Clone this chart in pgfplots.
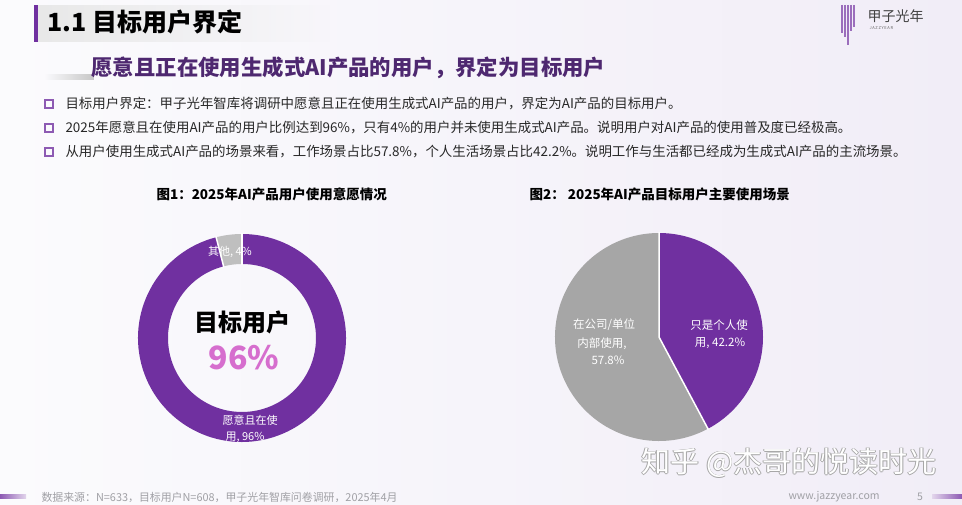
\documentclass[border=0pt]{standalone}
\usepackage{pgfplots}
\pgfplotsset{compat=1.18}
\usepackage{pgfplotstable}
\usetikzlibrary{fadings}
\usepackage{fontspec}
\setmainfont{Noto Sans CJK SC}
\definecolor{ppl}{RGB}{112,48,160}
\definecolor{pgrayA}{RGB}{191,191,191}
\definecolor{pgrayB}{RGB}{166,166,166}
\definecolor{pink}{RGB}{214,110,206}
\definecolor{subt}{RGB}{78,40,112}
\definecolor{bodytxt}{RGB}{40,40,40}
\definecolor{foot}{RGB}{160,160,165}
\definecolor{bgL}{RGB}{251,251,253}
\definecolor{bgR}{RGB}{241,237,247}

\pgfplotstableread[col sep=comma]{
label,value
其他,4
愿意且在使用,96
}\donutdata
\pgfplotstableread[col sep=comma]{
label,value
只是个人使用,42.2
在公司/单位内部使用,57.8
}\piedata

\begin{document}
\begin{tikzpicture}[x=1pt,y=1pt]
\useasboundingbox (0,0) rectangle (962,505);
\shade[left color=bgL, right color=bgR] (0,0) rectangle (962,505);
% title band
\fill[black!9, path fading=east] (35,463) rectangle (330,500);
\fill[ppl] (34,463) rectangle (38,500);
\node[anchor=west, font=\fontsize{25}{30}\selectfont\bfseries, text=black] at (44,483) {1.1 目标用户界定};
% subtitle
\fill[black!22, path fading=west] (45,425) rectangle (94,431);
\node[anchor=west, font=\fontsize{21.4}{25}\selectfont\bfseries, text=subt] at (88,437) {愿意且正在使用生成式AI产品的用户，界定为目标用户};
% logo
\foreach \xx/\yl in {842/472,845/468,848/460,851/474,854/478} {\draw[ppl!70, line width=1.2pt] (\xx,500) -- (\xx,\yl);}
\node[anchor=west, font=\fontsize{14}{16}\selectfont, text=black!75] at (864,489) {甲子光年};
\node[anchor=west, font=\fontsize{4}{5}\selectfont, text=black!60] at (866,477) {J\,A\,Z\,Z\,Y\,E\,A\,R};
% bullets
\foreach \yy in {401,377,353} {\draw[ppl!80, line width=1.3pt] (45,\yy-4) rectangle (53,\yy+4);}
\node[anchor=west, font=\fontsize{13.45}{15}\selectfont, text=bodytxt] at (62,401) {目标用户界定：甲子光年智库将调研中愿意且正在使用生成式AI产品的用户，界定为AI产品的目标用户。};
\node[anchor=west, font=\fontsize{13.45}{15}\selectfont, text=bodytxt] at (62,377) {2025年愿意且在使用AI产品的用户比例达到96\%，只有4\%的用户并未使用生成式AI产品。说明用户对AI产品的使用普及度已经极高。};
\node[anchor=west, font=\fontsize{13.45}{15}\selectfont, text=bodytxt] at (62,353) {从用户使用生成式AI产品的场景来看，工作场景占比57.8\%，个人生活场景占比42.2\%。说明工作与生活都已经成为生成式AI产品的主流场景。};
% chart titles
\node[anchor=west, font=\fontsize{13.5}{15}\selectfont\bfseries] at (153,311) {图1：2025年AI产品用户使用意愿情况};
\node[anchor=west, font=\fontsize{13.5}{15}\selectfont\bfseries] at (526,311) {图2：\ 2025年AI产品目标用户主要使用场景};

% angles
\pgfplotstablegetelem{0}{value}\of\donutdata
\pgfmathsetmacro\dA{90}
\pgfmathsetmacro\dB{90+3.6*\pgfplotsretval}
\pgfmathsetmacro\dC{450}
\pgfplotstablegetelem{0}{value}\of\piedata
\pgfmathsetmacro\pA{90}
\pgfmathsetmacro\pB{90-3.6*\pgfplotsretval}
\pgfmathsetmacro\pC{-270}

% donut
\begin{axis}[at={(242,167)}, anchor=center, x=1pt, y=1pt, xmin=-110, xmax=110, ymin=-110, ymax=110, hide axis, clip=false]
\fill[pgrayA] ({104*cos(\dA)},{104*sin(\dA)}) arc[start angle=\dA, end angle=\dB, radius=104pt] -- ({74*cos(\dB)},{74*sin(\dB)}) arc[start angle=\dB, end angle=\dA, radius=74pt] -- cycle;
\fill[ppl] ({104*cos(\dB)},{104*sin(\dB)}) arc[start angle=\dB, end angle=\dC, radius=104pt] -- ({74*cos(\dC)},{74*sin(\dC)}) arc[start angle=\dC, end angle=\dB, radius=74pt] -- cycle;
\draw[white, line width=1.5pt] ({73*cos(\dA)},{73*sin(\dA)}) -- ({105*cos(\dA)},{105*sin(\dA)});
\draw[white, line width=1.5pt] ({73*cos(\dB)},{73*sin(\dB)}) -- ({105*cos(\dB)},{105*sin(\dB)});
\node[font=\fontsize{24}{28}\selectfont\bfseries, text=black] at (0,16) {目标用户};
\node[font=\fontsize{32}{36}\selectfont\bfseries, text=pink] at (2,-20) {96\%};
\node[font=\fontsize{11}{13}\selectfont, text=white] at (-12,86) {其他, 4\%};
\node[font=\fontsize{11}{13}\selectfont, text=white] at (8,-82) {愿意且在使};
\node[font=\fontsize{11}{13}\selectfont, text=white] at (3,-99) {用, 96\%};
\end{axis}

% pie
\begin{axis}[at={(659,168)}, anchor=center, x=1pt, y=1pt, xmin=-110, xmax=110, ymin=-110, ymax=110, hide axis, clip=false]
\fill[ppl] (0,0) -- ({104*cos(\pA)},{104*sin(\pA)}) arc[start angle=\pA, end angle=\pB, radius=104pt] -- cycle;
\fill[pgrayB] (0,0) -- ({104*cos(\pB)},{104*sin(\pB)}) arc[start angle=\pB, end angle=\pC, radius=104pt] -- cycle;
\draw[white, line width=1.5pt] ({105*cos(\pA)},{105*sin(\pA)}) -- (0,0) -- ({105*cos(\pB)},{105*sin(\pB)});
\node[font=\fontsize{11.5}{13}\selectfont, text=white, align=center] at (-55,12) {在公司/单位};
\node[font=\fontsize{11.5}{13}\selectfont, text=white, align=center] at (-57,-7) {内部使用,};
\node[font=\fontsize{11.5}{13}\selectfont, text=white, align=center] at (-51,-23) {57.8\%};
\node[font=\fontsize{11.5}{13}\selectfont, text=white] at (60,12) {只是个人使};
\node[font=\fontsize{11.5}{13}\selectfont, text=white] at (61,-6) {用, 42.2\%};
\end{axis}

% watermark
\foreach \dx/\dy in {0.7/0,-0.7/0,0/0.7,0/-0.7} {\node[anchor=west, font=\fontsize{29}{32}\selectfont, text=black!35] at (638+\dx,42+\dy) {知乎 @杰哥的悦读时光};}
\node[anchor=west, font=\fontsize{29}{32}\selectfont, text=white] at (638,42) {知乎 @杰哥的悦读时光};
% footer
\shade[left color=ppl!80, right color=ppl!20] (0,6) rectangle (26,10);
\shade[left color=ppl!20, right color=ppl!80] (932,6) rectangle (962,10);
\node[anchor=west, font=\fontsize{10.9}{12}\selectfont, text=foot] at (38,8) {数据来源：N=633，目标用户N=608，甲子光年智库问卷调研，2025年4月};
\node[anchor=west, font=\fontsize{10.5}{12}\selectfont, text=foot] at (785,8) {www.jazzyear.com};
\node[font=\fontsize{10.5}{12}\selectfont, text=foot] at (920,8) {5};
\end{tikzpicture}
\end{document}
